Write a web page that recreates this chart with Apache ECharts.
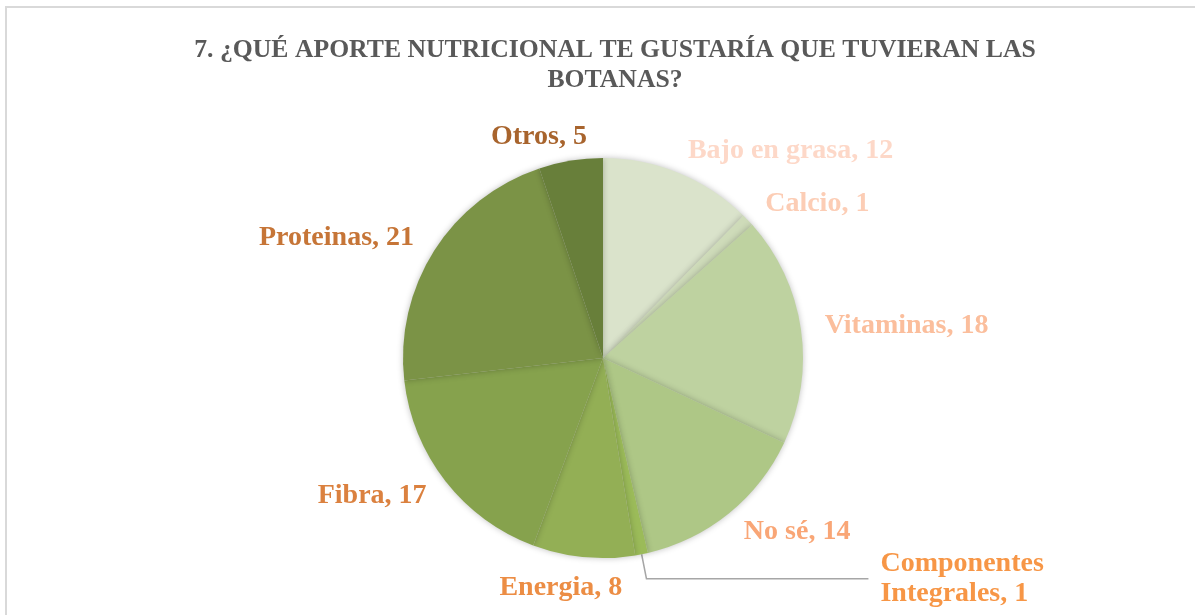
<!DOCTYPE html>
<html>
<head>
<meta charset="utf-8">
<script src="https://cdn.jsdelivr.net/npm/echarts@6/dist/echarts.min.js"></script>
<style>
	html, body { margin: 0; padding: 0; background: #ffffff; }
	#chart { width: 1195px; height: 615px; }
</style>
</head>
<body>
<div id="chart"></div>
<script>
var categories = ['Bajo en grasa', 'Calcio', 'Vitaminas', 'No sé', 'Componentes Integrales', 'Energia', 'Fibra', 'Proteinas', 'Otros'];
var values = [12, 1, 18, 14, 1, 8, 17, 21, 5];
var sliceColors = ['#DAE3CB', '#CEDBB9', '#BED2A0', '#AEC786', '#9BBB59', '#93AF55', '#86A24D', '#7B9346', '#687F3A'];
var labelColors = ['#FDD8C8', '#FCCDB5', '#FBBE9C', '#F9A676', '#F79646', '#EC8D44', '#DB813F', '#C67537', '#A8642D'];

var dom = document.getElementById('chart');
var myChart = echarts.init(dom);

var seriesData = [];
for (var i = 0; i < categories.length; i++) {
	var item = {
		name: categories[i],
		value: values[i],
		itemStyle: { color: sliceColors[i] },
		label: { color: labelColors[i] }
	};
	// la de 1 va con linea guia
	if (categories[i] == 'Componentes Integrales') {
		item.label.formatter = 'Componentes\nIntegrales, {c}';
		item.label.align = 'left';
		item.label.distanceToLabelLine = 12;
		item.labelLine = {
			show: true,
			length: 25,
			length2: 222,
			lineStyle: { color: '#A6A6A6', width: 1.5 }
		};
	}
	seriesData.push(item);
}

var option = {
	backgroundColor: '#ffffff',
	title: {
		text: '7. ¿QUÉ APORTE NUTRICIONAL TE GUSTARÍA QUE TUVIERAN LAS\nBOTANAS?',
		left: 610,
		textAlign: 'center',
		top: 30,
		textStyle: {
			fontFamily: 'Liberation Serif',
			fontSize: 25.7,
			fontWeight: 'bold',
			color: '#595959',
			lineHeight: 30
		}
	},
	graphic: [{
		type: 'rect',
		shape: { x: 6, y: 7, width: 1300, height: 700 },
		style: { fill: 'none', stroke: '#D9D9D9', lineWidth: 2 },
		silent: true
	}],
	series: [{
		name: 'Aporte nutricional',
		type: 'pie',
		radius: 200,
		center: [603, 358],
		startAngle: 90,
		clockwise: true,
		avoidLabelOverlap: false,
		data: seriesData,
		label: {
			show: true,
			position: 'outside',
			formatter: '{b}, {c}',
			fontFamily: 'Liberation Serif',
			fontSize: 28,
			fontWeight: 'bold',
			lineHeight: 30,
			distanceToLabelLine: 0
		},
		labelLine: {
			show: false,
			length: 24,
			length2: 0
		},
		labelLayout: function (params) {
			// Excel centra Energia y corre un poco Otros
			if (params.dataIndex == 5) {
				return { dx: 41, dy: 7 };
			}
			if (params.dataIndex == 8) {
				return { dx: 20 };
			}
			return {};
		},
		itemStyle: {
			borderWidth: 0,
			shadowBlur: 6,
			shadowColor: 'rgba(0, 0, 0, 0.25)'
		},
		emphasis: { disabled: true },
		animation: false
	}]
};
myChart.setOption(option);
</script>
</body>
</html>
